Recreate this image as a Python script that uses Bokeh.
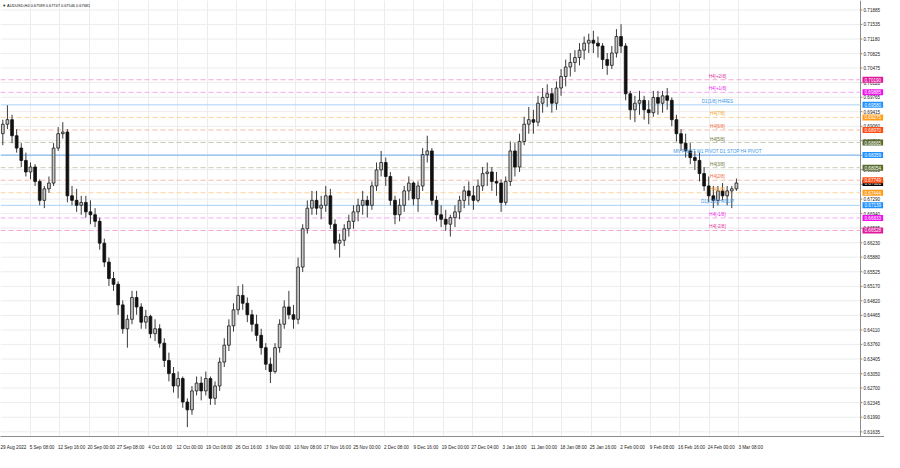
import numpy as np
from bokeh.plotting import figure
from bokeh.models import FixedTicker, Label, ColumnDataSource, NumeralTickFormatter, Range1d
from bokeh.core.properties import value
from bokeh.embed import file_html
from bokeh.resources import INLINE

title_text = "\u25bc AUDUSD,H4  0.67599 0.67747 0.67546 0.67681"
bars_per_candle = 5
first_open = 0.6888

closes = [0.6911, 0.6922, 0.6883, 0.6853, 0.6823, 0.6795, 0.6807, 0.6772, 0.6726, 0.6754,
          0.6768, 0.6853, 0.6888, 0.6892, 0.6737, 0.6726, 0.6714, 0.6721, 0.6698, 0.6691,
          0.6675, 0.6622, 0.6576, 0.6536, 0.6522, 0.6472, 0.6414, 0.6437, 0.6490, 0.6467,
          0.6430, 0.6444, 0.6402, 0.6414, 0.6379, 0.6337, 0.6305, 0.6275, 0.6293, 0.6236,
          0.6217, 0.6263, 0.6282, 0.6263, 0.6293, 0.6245, 0.6275, 0.6333, 0.6374, 0.6421,
          0.6460, 0.6495, 0.6476, 0.6448, 0.6425, 0.6398, 0.6368, 0.6328, 0.6310, 0.6368,
          0.6425, 0.6467, 0.6448, 0.6437, 0.6564, 0.6657, 0.6707, 0.6726, 0.6707, 0.6714,
          0.6737, 0.6668, 0.6622, 0.6629, 0.6657, 0.6675, 0.6698, 0.6714, 0.6726, 0.6714,
          0.6761, 0.6800, 0.6818, 0.6784, 0.6726, 0.6691, 0.6714, 0.6749, 0.6768, 0.6730,
          0.6761, 0.6837, 0.6846, 0.6726, 0.6691, 0.6680, 0.6668, 0.6684, 0.6698, 0.6726,
          0.6749, 0.6737, 0.6726, 0.6761, 0.6791, 0.6795, 0.6772, 0.6768, 0.6721, 0.6772,
          0.6846, 0.6807, 0.6869, 0.6911, 0.6922, 0.6916, 0.6962, 0.6976, 0.6985, 0.6962,
          0.6999, 0.7027, 0.7050, 0.7061, 0.7073, 0.7091, 0.7108, 0.7115, 0.7108, 0.7101,
          0.7068, 0.7054, 0.7084, 0.7124, 0.7101, 0.6985, 0.6946, 0.6962, 0.6969, 0.6946,
          0.6939, 0.6976, 0.6962, 0.6980, 0.6969, 0.6922, 0.6888, 0.6865, 0.6846, 0.6830,
          0.6823, 0.6791, 0.6761, 0.6737, 0.6726, 0.6749, 0.6737, 0.6749, 0.6754, 0.67681]

highs = [0.6922, 0.6957, 0.6934, 0.6899, 0.6865, 0.6842, 0.6818, 0.6814, 0.6777, 0.6761,
         0.6784, 0.6865, 0.6904, 0.6916, 0.6899, 0.6761, 0.6754, 0.6737, 0.6737, 0.6726,
         0.6707, 0.6684, 0.6633, 0.6587, 0.6552, 0.6529, 0.6483, 0.6448, 0.6506, 0.6506,
         0.6476, 0.6460, 0.6448, 0.6437, 0.6425, 0.6391, 0.6356, 0.6321, 0.6310, 0.6298,
         0.6245, 0.6275, 0.6298, 0.6298, 0.6310, 0.6298, 0.6286, 0.6344, 0.6391, 0.6437,
         0.6476, 0.6518, 0.6522, 0.6490, 0.6460, 0.6448, 0.6414, 0.6379, 0.6344, 0.6379,
         0.6437, 0.6483, 0.6506, 0.6472, 0.6587, 0.6668, 0.6726, 0.6749, 0.6749, 0.6737,
         0.6761, 0.6754, 0.6680, 0.6645, 0.6668, 0.6691, 0.6714, 0.6730, 0.6749, 0.6737,
         0.6772, 0.6818, 0.6846, 0.6830, 0.6795, 0.6737, 0.6730, 0.6761, 0.6784, 0.6772,
         0.6772, 0.6853, 0.6883, 0.6853, 0.6737, 0.6714, 0.6703, 0.6691, 0.6714, 0.6737,
         0.6761, 0.6772, 0.6761, 0.6777, 0.6807, 0.6818, 0.6807, 0.6795, 0.6777, 0.6784,
         0.6869, 0.6865, 0.6888, 0.6929, 0.6953, 0.6946, 0.6980, 0.6999, 0.7008, 0.6999,
         0.7015, 0.7045, 0.7068, 0.7084, 0.7091, 0.7108, 0.7124, 0.7131, 0.7138, 0.7124,
         0.7108, 0.7084, 0.7101, 0.7142, 0.7154, 0.7108, 0.6992, 0.6980, 0.6992, 0.6980,
         0.6969, 0.6992, 0.6992, 0.6992, 0.6999, 0.6976, 0.6934, 0.6899, 0.6888, 0.6865,
         0.6846, 0.6842, 0.6807, 0.6784, 0.6761, 0.6761, 0.6768, 0.6761, 0.6761, 0.6779]

lows = [0.6860, 0.6899, 0.6865, 0.6842, 0.6807, 0.6784, 0.6777, 0.6761, 0.6714, 0.6707,
        0.6744, 0.6761, 0.6846, 0.6876, 0.6721, 0.6714, 0.6698, 0.6691, 0.6684, 0.6668,
        0.6661, 0.6606, 0.6564, 0.6518, 0.6506, 0.6448, 0.6402, 0.6368, 0.6425, 0.6448,
        0.6414, 0.6414, 0.6391, 0.6384, 0.6368, 0.6321, 0.6286, 0.6259, 0.6245, 0.6222,
        0.6175, 0.6205, 0.6252, 0.6240, 0.6252, 0.6229, 0.6229, 0.6263, 0.6321, 0.6360,
        0.6407, 0.6448, 0.6460, 0.6430, 0.6407, 0.6384, 0.6351, 0.6314, 0.6282, 0.6305,
        0.6356, 0.6414, 0.6437, 0.6414, 0.6425, 0.6552, 0.6645, 0.6691, 0.6691, 0.6680,
        0.6698, 0.6657, 0.6606, 0.6587, 0.6615, 0.6638, 0.6657, 0.6675, 0.6691, 0.6684,
        0.6703, 0.6749, 0.6784, 0.6761, 0.6714, 0.6668, 0.6675, 0.6698, 0.6726, 0.6714,
        0.6698, 0.6749, 0.6818, 0.6714, 0.6675, 0.6661, 0.6652, 0.6638, 0.6661, 0.6680,
        0.6707, 0.6714, 0.6703, 0.6721, 0.6749, 0.6761, 0.6749, 0.6737, 0.6698, 0.6714,
        0.6761, 0.6784, 0.6795, 0.6860, 0.6888, 0.6888, 0.6906, 0.6939, 0.6953, 0.6939,
        0.6946, 0.6980, 0.7003, 0.7027, 0.7038, 0.7054, 0.7068, 0.7084, 0.7084, 0.7073,
        0.7045, 0.7031, 0.7045, 0.7073, 0.7084, 0.6969, 0.6922, 0.6916, 0.6934, 0.6922,
        0.6911, 0.6929, 0.6934, 0.6939, 0.6946, 0.6906, 0.6869, 0.6846, 0.6830, 0.6814,
        0.6800, 0.6772, 0.6749, 0.6721, 0.6707, 0.6714, 0.6726, 0.6714, 0.6707, 0.6749]

date_tick_bars = [0, 32, 64, 96, 128, 160, 192, 224, 256, 288, 320, 352, 384,
                  416, 448, 480, 512, 544, 576, 608, 640, 672, 704, 736, 768, 800]
date_labels = ["29 Aug 2022", "5 Sep 08:00", "12 Sep 16:00", "20 Sep 00:00", "27 Sep 08:00",
               "4 Oct 16:00", "12 Oct 00:00", "19 Oct 08:00", "26 Oct 16:00", "3 Nov 00:00",
               "10 Nov 08:00", "17 Nov 16:00", "25 Nov 00:00", "2 Dec 08:00", "9 Dec 16:00",
               "19 Dec 00:00", "27 Dec 04:00", "3 Jan 16:00", "11 Jan 00:00", "18 Jan 08:00",
               "25 Jan 16:00", "2 Feb 00:00", "9 Feb 08:00", "16 Feb 16:00", "24 Feb 00:00",
               "3 Mar 08:00"]

price_ticks = [0.71885, 0.71535, 0.71180, 0.70825, 0.70475, 0.70120, 0.69765, 0.69415,
               0.69060, 0.68710, 0.68355, 0.68005, 0.67650, 0.67290, 0.66940, 0.66585,
               0.66230, 0.65880, 0.65525, 0.65170, 0.64820, 0.64465, 0.64110, 0.63760,
               0.63405, 0.63050, 0.62700, 0.62345, 0.61990, 0.61635]

level_names = ["H4[+2/8]", "H4[+1/8]", "D1[1/8] H4RES", "H4[7/8]", "H4[6/8]", "H4[5/8]",
               "MN PIVOT W1 PIVOT D1 STOP H4 PIVOT", "H4[3/8]", "H4[2/8]", "H4[1/8]",
               "D1[-1/8] H4SUP", "H4[-1/8]", "H4[-2/8]"]
level_values = [0.70190, 0.69885, 0.69580, 0.69275, 0.68970, 0.68665, 0.68359,
                0.68054, 0.67749, 0.67444, 0.67139, 0.66833, 0.66528]
level_line_colors = ["#f3a6d2", "#f4a6f4", "#a8d2f6", "#fbd39b", "#f6b9a8", "#c9c9b3",
                     "#6eaef0", "#c9c9b3", "#f6b9a8", "#fbd39b", "#a8d2f6", "#f4a6f4", "#f3a6d2"]
level_dashes = ["dashed", "dashed", "solid", "dashed", "dashed", "dashed", "solid",
                "dashed", "dashed", "dashed", "solid", "dashed", "dashed"]
level_text_colors = ["#e0309a", "#f020f0", "#3d98e8", "#f5a020", "#f26a3c", "#6b7b3a",
                     "#3d98e8", "#6b7b3a", "#f26a3c", "#f5a020", "#3d98e8", "#f020f0", "#e0309a"]
level_badge_colors = ["#e0189a", "#ee11ee", "#1e90ff", "#ff9c1a", "#ff4a12", "#5a6b30",
                      "#1e90ff", "#5a6b30", "#ff4a12", "#ff9c1a", "#1e90ff", "#ee11ee", "#e0189a"]
current_price = 0.67681

FONT = "Liberation Sans"
FS = "4.6px"
TITLE_FS = "3.9px"
X_END = 932          # chart's right border (bars)
X_CANVAS_END = 958   # extra room for the price scale
LEVEL_LABEL_BAR = 777
LABEL_SHIFT = 13
AXIS_PULL = -21
Y0, Y1 = 0.61522, 0.72116

opens = [first_open] + closes[:-1]
xs = np.arange(len(closes)) * bars_per_candle + bars_per_candle / 2
o = np.array(opens); c = np.array(closes)
up = c >= o
src_up = ColumnDataSource(dict(x=xs[up], top=np.maximum(o, c)[up], bottom=np.minimum(o, c)[up]))
src_dn = ColumnDataSource(dict(x=xs[~up], top=np.maximum(o, c)[~up], bottom=np.minimum(o, c)[~up]))
src_w = ColumnDataSource(dict(x=xs, h=highs, l=lows))

p = figure(width=884, height=452, output_backend="svg", toolbar_location=None,
           x_range=Range1d(0, X_CANVAS_END), y_range=Range1d(Y0, Y1),
           y_axis_location="right", min_border_left=0, min_border_top=0,
           min_border_right=0, min_border_bottom=0)
p.outline_line_color = None
p.background_fill_color = "white"

# grid
p.ygrid.visible = False
p.xgrid.ticker = FixedTicker(ticks=date_tick_bars)
p.xgrid.grid_line_color = "#ececec"
p.segment(x0=[0] * len(price_ticks), y0=price_ticks, x1=[X_END] * len(price_ticks),
          y1=price_ticks, line_color="#ececec", line_width=1)

# price scale (labels pulled into the reserved strip)
yax = p.yaxis[0]
yax.ticker = FixedTicker(ticks=price_ticks)
yax.formatter = NumeralTickFormatter(format="0.00000")
yax.major_label_text_font = FONT
yax.major_label_text_font_size = FS
yax.major_label_text_color = "#222222"
yax.axis_line_color = None
yax.major_tick_line_color = None
yax.minor_tick_line_color = None
yax.major_tick_out = 0
yax.major_tick_in = 0
yax.major_label_standoff = AXIS_PULL

p.segment(x0=[X_END], y0=[Y0], x1=[X_END], y1=[Y1], line_color="#8c8c8c", line_width=1)
p.segment(x0=[X_END] * len(price_ticks), y0=price_ticks, x1=[X_END + 2] * len(price_ticks),
          y1=price_ticks, line_color="#8c8c8c", line_width=1)

label_ticks = [b + LABEL_SHIFT for b in date_tick_bars]
xax = p.xaxis[0]
xax.ticker = FixedTicker(ticks=label_ticks)
xax.major_label_overrides = {b: s for b, s in zip(label_ticks, date_labels)}
xax.major_label_text_font = FONT
xax.major_label_text_font_size = FS
xax.major_label_text_color = "#222222"
xax.axis_line_color = "#8c8c8c"
xax.major_tick_line_color = None
xax.minor_tick_line_color = None
xax.major_label_standoff = 2

for v, col, dash in zip(level_values, level_line_colors, level_dashes):
    p.segment(x0=[0], y0=[v], x1=[X_END], y1=[v], line_color=col,
              line_dash="solid" if dash == "solid" else "5 3", line_width=1)

p.segment(x0="x", y0="h", x1="x", y1="l", source=src_w, line_color="#3a3a3a", line_width=1)
p.vbar(x="x", width=3.0, top="top", bottom="bottom", source=src_up,
       fill_color="#c8c8c8", line_color="#1a1a1a", line_width=0.8)
p.vbar(x="x", width=3.0, top="top", bottom="bottom", source=src_dn,
       fill_color="#111111", line_color="#111111", line_width=0.8)

p.text(x=[LEVEL_LABEL_BAR] * len(level_names), y=level_values, text=level_names,
       text_color=level_text_colors, text_font=value(FONT), text_font_size=FS,
       text_align="center", text_baseline="bottom", y_offset=-1)

p.add_layout(Label(x=2, y=Y1, text=title_text, text_font=FONT, text_font_size=TITLE_FS,
                   text_color="#111111", text_baseline="top", y_offset=-2))

badges = [(current_price, "#000000")] + list(zip(level_values, level_badge_colors))
for v, col in badges:
    p.add_layout(Label(x=X_END, y=v, x_offset=2, text="%.5f" % v,
                       text_font=FONT, text_font_size=FS, text_color="white",
                       text_align="left", text_baseline="middle",
                       background_fill_color=col, padding=(2, 1), level="overlay"))

open("out.html", "w").write(file_html(p, INLINE))
